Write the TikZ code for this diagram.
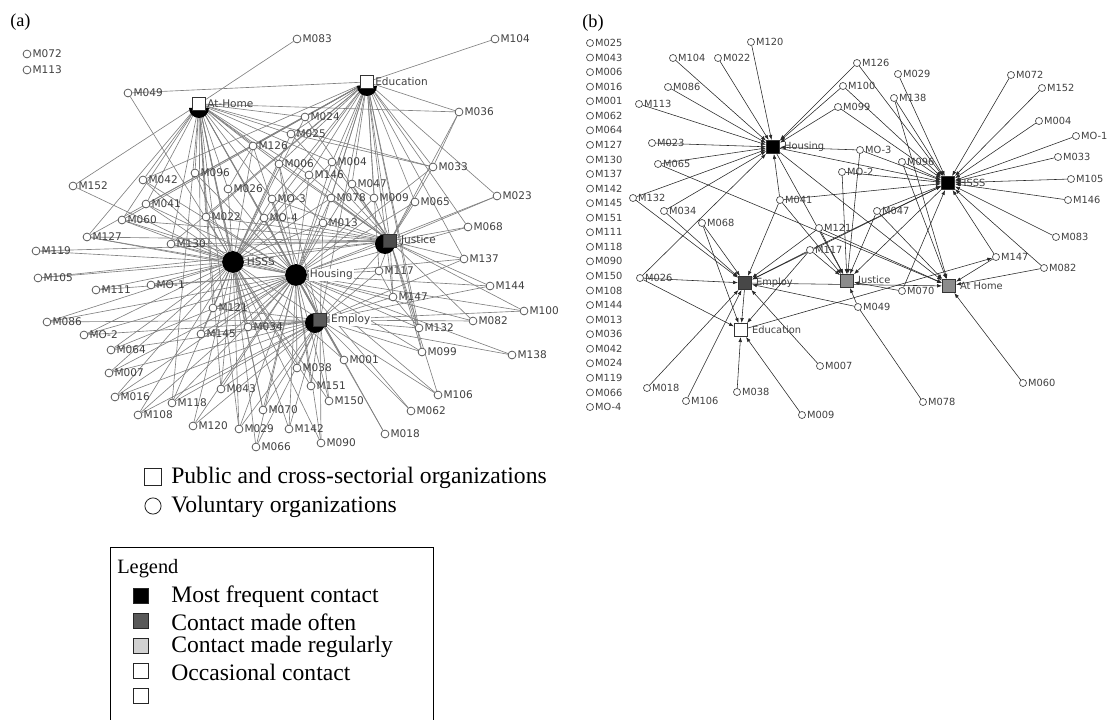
\documentclass[tikz,border=0pt]{standalone}
\usepackage{fontspec}
\setmainfont{Liberation Serif}
\newfontfamily\dejavu{DejaVu Sans}
\usetikzlibrary{arrows.meta,backgrounds}

\tikzset{
  vol/.style={circle,draw=black!70,fill=white,line width=0.5pt,minimum size=5.6pt,inner sep=0pt},
  volb/.style={vol,minimum size=5pt},
  lbla/.style={font=\dejavu\fontsize{7.5}{8}\selectfont,text=black!75,inner sep=0.7pt},
  lblb/.style={font=\dejavu\fontsize{7}{8}\selectfont,text=black!75,inner sep=0.7pt},
  hubsq/.style={rectangle,draw=black!80,line width=0.5pt,minimum size=9.5pt,inner sep=0pt},
  hubdot/.style={circle,fill=black,minimum size=15.5pt,inner sep=0pt},
  edgea/.style={draw=black!50,line width=0.45pt},
  edgeb/.style={draw=black!85,line width=0.4pt,-{Latex[length=3.5pt,width=2.6pt]}},
  plainb/.style={draw=black!85,line width=0.4pt},
  legtext/.style={anchor=west,font=\fontsize{16.8}{18}\selectfont,inner sep=0pt},
  legbox/.style={rectangle,draw=black!85,line width=0.6pt,minimum size=11pt,inner sep=0pt},
}

\begin{document}
\begin{tikzpicture}[x=0.025cm,y=-0.025cm]
\useasboundingbox (0,0) rectangle (1107,720);

% ---------- panel (a)
\node[anchor=west,font=\fontsize{13}{15}\selectfont,inner sep=0pt] (tita) at (10,22) {(a)};

\foreach \n/\x/\y in {M072/27/54, M113/27/70, M049/128/93, M083/297/39, M104/495/39,
    M036/459/112, M024/305/117, M025/291/134, M126/253/146, M006/279/164, M004/332/162,
    M146/309/175, M096/195/173, M026/228/189, M047/352/184, M033/433/167, M152/73/186,
    M042/143/180, M078/331/198, M009/374/198, M065/415/202, M023/497/196, M041/146/204,
    M060/122/220, M022/206/217, M013/323/223, M068/468/227, M127/87/237, M130/171/244,
    M119/36/251, M137/464/259, M105/38/278, M117/379/271, M111/96/290, M144/490/286,
    M147/393/297, M121/213/308, M100/524/311, M082/473/321, M086/47/322, M034/248/327,
    M132/419/328, M145/201/334, M064/111/350, M099/422/352, M138/512/355, M001/344/360,
    M038/297/368, M007/109/373, M151/311/386, M043/221/389, M106/438/395, M016/115/397,
    M150/329/401, M118/172/403, M070/263/410, M062/411/411, M108/138/415, M120/193/426,
    M029/239/429, M142/289/429, M018/385/434, M090/321/443, M066/256/447}
  \node[vol,label={[lbla]right:\n}] (a\n) at (\x,\y) {};
\node[vol,label={[lbla]right:MO-1}] (aMO1) at (151,285) {};
\node[vol,label={[lbla]right:MO-2}] (aMO2) at (84,335) {};
\node[vol,label={[lbla]right:MO-3}] (aMO3) at (272,199) {};
\node[vol,label={[lbla]right:MO-4}] (aMO4) at (264,218) {};

% hubs of (a)
\fill (209,108) arc[start angle=0,end angle=180,radius=10] -- cycle;
\node[hubsq,fill=white,label={[lbla]right:At-Home}] (aHome) at (199,104) {};
\fill (377,86) arc[start angle=0,end angle=180,radius=10] -- cycle;
\node[hubsq,fill=white,label={[lbla]right:Education}] (aEdu) at (367,82) {};
\fill (385,244) circle (10);
\node[hubsq,fill=black!70,label={[lbla,xshift=2pt]right:Justice}] (aJus) at (390,241) {};
\fill (315,323) circle (10);
\node[hubsq,fill=black!65,label={[lbla,fill=white,xshift=2pt]right:Employ}] (aEmp) at (320,320) {};
\node[hubdot,label={[lbla,xshift=1pt]right:HSSS}] (aHSSS) at (233,262) {};
\node[hubdot,label={[lbla,fill=white,xshift=1pt]right:Housing}] (aHou) at (296,275) {};

\begin{pgfonlayer}{background}
\foreach \n in {M049,M152,M042,M041,M060,M127,M119,M105,M111,MO1,M086,MO2,M064,M007,
    M016,M108,M118,M120,M043,M029,M066,M070,M142,M090,M151,M038,M130,M022,M096,M026,
    M126,M006,MO3,MO4,M025,M024,M004,M146,M078,M013,M121,M145,M034,M001,M150,
    Hou,Jus,Emp,Home,Edu}
  \draw[edgea] (aHSSS) -- (a\n);
\foreach \n in {M130,M022,M026,M126,M006,MO3,MO4,M146,M004,M047,M078,M013,M009,M065,
    M033,M023,M068,M137,M117,M144,M147,M082,M100,M132,M099,M138,M106,M062,M018,M001,
    M150,M151,M038,M090,M142,M066,M070,M029,M120,M043,M118,M108,M016,M007,M064,M145,
    M121,M034,MO2,M086,M111,MO1,M127,M060,M041,M042,M096,Jus,Emp,Home,Edu}
  \draw[edgea] (aHou) -- (a\n);
\foreach \n in {M121,M145,M034,M038,M001,M151,M150,M142,M090,M070,M066,M029,M043,M120,
    M118,M108,M016,M007,M064,MO2,M086,M132,M099,M147,M117,M082,M100,M138,M106,M062,
    M018,M144,M137,M013,MO4,MO3,M006,Jus,Home,Edu}
  \draw[edgea] (aEmp) -- (a\n);
\foreach \n in {M065,M068,M023,M137,M144,M117,M147,M132,M009,M013,M078,M047,M033,M004,
    M146,MO3,MO4,M006,M130,M127,M022,M060,M082,M100,M099,M106,M036,M025,M024,M105,
    M119,Home,Edu}
  \draw[edgea] (aJus) -- (a\n);
\foreach \n in {M083,M152,M042,M041,M060,M096,M022,M130,M026,M126,M006,M025,M024,MO3,
    MO4,M121,M145,M034,M127,M043,M118,M029,M070,M013,M146,M004,M033,M036}
  \draw[edgea] (aHome) -- (a\n);
\foreach \n in {M049,M104,M024,M025,M004,M146,M047,M009,M078,M013,M065,M033,M036,M023,
    M068,M137,M117,M147,M132,M099,M126,M006,MO3,M022,M130,M041,M060,M127,M042}
  \draw[edgea] (aEdu) -- (a\n);
\draw[edgea] (aM036) -- (aM033);
\draw[edgea] (aM025) -- (aM033);
\draw[edgea] (aM126) -- (aM026);
\draw[edgea] (aM117) -- (aM147);
\draw[edgea] (aM147) -- (aM132);
\draw[edgea] (aM047) -- (aM009);
\end{pgfonlayer}

% ---------- panel (b)
\node[anchor=west,font=\fontsize{13}{15}\selectfont,inner sep=0pt] (titb) at (582,23) {(b)};

\foreach \n [count=\i from 0] in {M025,M043,M006,M016,M001,M062,M064,M127,M130,M137,
    M142,M145,M151,M111,M118,M090,M150,M108,M144,M013,M036,M042,M024,M119,M066,MO-4}
  \node[volb,label={[lblb]right:\n}] (bc\i) at (590,43+14.56*\i) {};

\foreach \n/\x/\y in {M120/751/42, M104/673/58, M022/718/58, M086/668/87, M113/639/104,
    M023/652/143, M065/658/164, M132/633/198, M041/780/200, M034/664/211, M068/702/223,
    M026/640/278, M018/647/388, M106/686/401, M038/737/392, M009/802/415, M126/857/63,
    M029/898/74, M100/843/86, M138/894/98, M099/838/107, M096/902/162, M072/1011/75,
    M152/1042/88, M004/1039/121, M033/1058/157, M105/1071/179, M146/1068/200,
    M047/877/211, M121/819/228, M117/810/250, M083/1056/237, M147/996/257,
    M082/1044/268, M070/902/291, M049/858/307, M007/820/366, M078/923/402, M060/1023/383}
  \node[volb,label={[lblb]right:\n}] (b\n) at (\x,\y) {};
\node[volb,label={[lblb]right:MO-1}] (bMO1) at (1076,136) {};
\node[volb,label={[lblb]right:MO-2}] (bMO2) at (842,172) {};
\node[volb,label={[lblb]right:MO-3}] (bMO3) at (860,150) {};

% hubs of (b)
\node[hubsq,fill=black,label={[lblb,xshift=2pt]right:Housing}] (bHou) at (773,147) {};
\node[hubsq,fill=black,label={[lblb,xshift=2pt]right:HSSS}] (bHSSS) at (948,183) {};
\node[hubsq,fill=black!72,label={[lblb,xshift=2pt]right:Employ}] (bEmp) at (745,283) {};
\node[hubsq,fill=black!45,label={[lblb,xshift=2pt]right:Justice}] (bJus) at (847,281) {};
\node[hubsq,fill=black!45,label={[lblb,xshift=2pt]right:At Home}] (bHome) at (949,286) {};
\node[hubsq,fill=white,label={[lblb,xshift=2pt]right:Education}] (bEdu) at (741,330) {};

\begin{pgfonlayer}{background}
\foreach \n in {M120,M104,M022,M086,M113,M023,M065,M132,M034,M026,M041,M126,M100,M099,MO3}
  \draw[edgeb] (b\n) -- (bHou);
\foreach \n in {M126,M100,M029,M138,M099,M096,MO3,MO2,M072,M152,M004,MO1,M033,M105,
    M146,M083,M082,M147,M047,M041,M070,M117}
  \draw[edgeb] (b\n) -- (bHSSS);
\foreach \n in {M132,M034,M068,M026,M041,M121,M117,M018,M106,M007,M049}
  \draw[edgeb] (b\n) -- (bEmp);
\foreach \n in {M026,M009,M038,M068,M117}
  \draw[edgeb] (b\n) -- (bEdu);
\foreach \n in {M121,M047,MO2,MO3,M117,M070,M049,M041}
  \draw[edgeb] (b\n) -- (bJus);
\foreach \n in {M060,M082,M147,M047,M096,M065,M121,M138}
  \draw[edgeb] (b\n) -- (bHome);
\draw[edgeb] (bHou) -- (bHSSS);
\draw[edgeb] (bHou) -- (bJus);
\draw[edgeb] (bHou) -- (bHome);
\draw[edgeb] (bHSSS) -- (bJus);
\draw[edgeb] (bHSSS) -- (bEmp);
\draw[edgeb] (bEmp) -- (bEdu);
\draw[edgeb] (bEmp) -- (bHome);
\draw[edgeb] (bEdu) -- (bM147);
\draw[plainb] (bM049) -- (bM078);
\end{pgfonlayer}

% ---------- legend
\node[legbox,minimum size=11.5pt] (kpub) at (153,477) {};
\node[legtext] (tpub) at (171,478) {Public and cross-sectorial organizations};
\node[circle,draw=black!85,line width=0.6pt,minimum size=11.5pt,inner sep=0pt] (kvol) at (153,506) {};
\node[legtext] (tvol) at (171,507) {Voluntary organizations};

\draw[line width=0.7pt] (110,730) -- (110,547) -- (433,547) -- (433,730);
\node[anchor=west,font=\fontsize{14.5}{16}\selectfont,inner sep=0pt] (tleg) at (117,569) {Legend};
\foreach \c/\t [count=\i from 0] in {black/Most frequent contact, black!65/Contact made often,
    black!18/Contact made regularly, white/Occasional contact, white/{}}
{
  \node[legbox,fill=\c] (k\i) at (141,596+25*\i) {};
  \node[legtext] (t\i) at (171,597+25*\i) {\t};
}
\end{tikzpicture}
\end{document}
